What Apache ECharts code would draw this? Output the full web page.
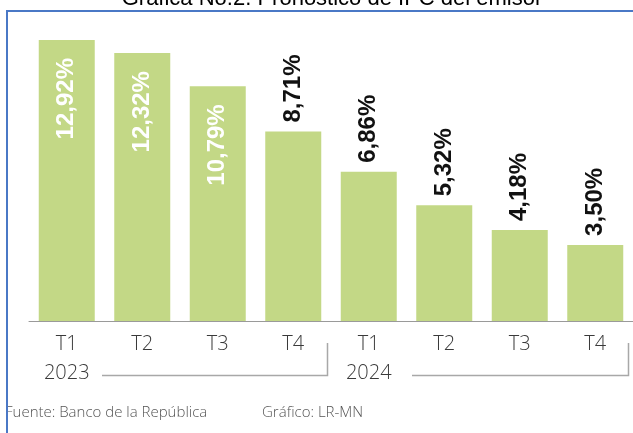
<!DOCTYPE html>
<html>
<head>
<meta charset="utf-8">
<script src="https://cdn.jsdelivr.net/npm/echarts@6/dist/echarts.min.js"></script>
<style>
  html, body { margin: 0; padding: 0; background: #fff; }
  #main { width: 633px; height: 433px; }
</style>
</head>
<body>
<div id="main"></div>
<script>
// datos: pronóstico IPC por trimestre
const quarters = ['T1', 'T2', 'T3', 'T4', 'T1', 'T2', 'T3', 'T4']
const yearLabels = ['2023', '', '', '', '2024', '', '', '']
const ipcValues = [12.92, 12.32, 10.79, 8.71, 6.86, 5.32, 4.18, 3.50]
// las tres primeras etiquetas van dentro de la barra
const insideCount = 3

const barColor = '#c3d886'
const fmt = v => v.toFixed(2).replace('.', ',') + '%'

const chart = echarts.init(document.getElementById('main'))

const seriesData = ipcValues.map(function(v, i) {
  const inside = i < insideCount
  return {
    value: v,
    label: inside
      ? { position: 'insideTop', align: 'right', distance: 18, color: '#fff' }
      : { position: 'top', align: 'left', distance: 9, color: '#111' }
  }
})

const option = {
  animation: false,
  grid: { left: 29, right: -4, top: 16.5, bottom: 112 },
  xAxis: [
    {
      type: 'category',
      data: quarters,
      axisLine: { lineStyle: { color: '#9a9a9a', width: 1 } },
      axisTick: { show: false },
      axisLabel: {
        color: '#3a3a3a', fontSize: 20, margin: 13,
        fontFamily: 'Open Sans', fontWeight: 300
      }
    },
    {
      type: 'category',
      position: 'bottom',
      offset: 29,
      data: yearLabels,
      axisLine: { show: false },
      axisTick: { show: false },
      axisLabel: {
        color: '#3a3a3a', fontSize: 20, margin: 13, interval: 0,
        fontFamily: 'Open Sans', fontWeight: 300
      }
    }
  ],
  yAxis: { type: 'value', min: 0, max: 14, show: false },
  series: [
    {
      type: 'bar',
      xAxisIndex: 0,
      barWidth: 56,
      itemStyle: { color: barColor },
      label: {
        show: true,
        rotate: 90,
        verticalAlign: 'middle',
        fontFamily: 'Liberation Sans',
        fontWeight: 'bold',
        fontSize: 24,
        formatter: p => fmt(p.value)
      },
      data: seriesData
    }
  ],
  graphic: [
    {
      type: 'text',
      style: {
        text: 'Gráfica No.2. Pronóstico de IPC del emisor',
        x: 332, y: 10, align: 'center', verticalAlign: 'bottom',
        fill: '#000', font: '22px "Liberation Sans"'
      }
    },
    {
      type: 'polyline',
      shape: { points: [[102, 375.5], [327.5, 375.5], [327.5, 343]] },
      style: { fill: null, stroke: '#a8a8a8', lineWidth: 1.5 }
    },
    {
      type: 'polyline',
      shape: { points: [[412, 375.5], [628.5, 375.5], [628.5, 343]] },
      style: { fill: null, stroke: '#a8a8a8', lineWidth: 1.5 }
    },
    {
      type: 'text',
      style: {
        text: 'Fuente: Banco de la República',
        x: 5, y: 413, verticalAlign: 'middle',
        fill: '#555', font: '300 15px "Open Sans"'
      }
    },
    {
      type: 'text',
      style: {
        text: 'Gráfico: LR-MN',
        x: 262, y: 413, verticalAlign: 'middle',
        fill: '#555', font: '300 15px "Open Sans"'
      }
    },
    {
      type: 'rect',
      shape: { x: 7, y: 11, width: 700, height: 500 },
      style: { fill: null, stroke: '#4a78c6', lineWidth: 2 }
    }
  ]
}

chart.setOption(option)
</script>
</body>
</html>
